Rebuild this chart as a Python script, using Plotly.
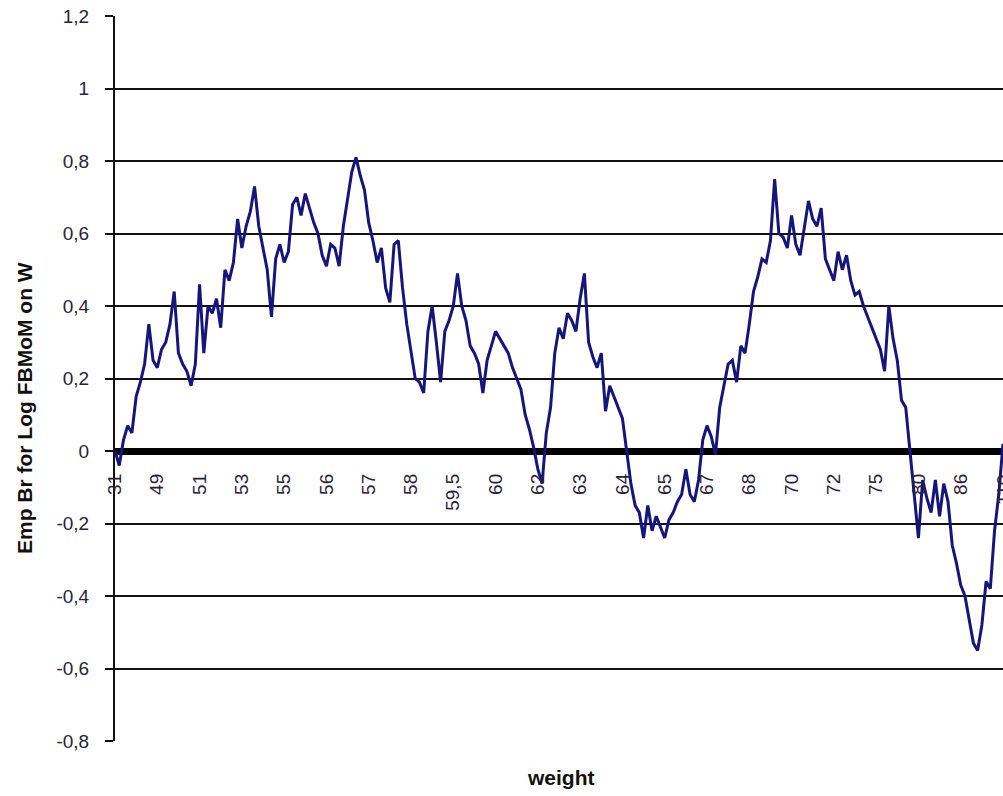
import plotly.graph_objects as go

# Empirical bridge values, one per observation (ordered by weight)
emp_br = [
    0.00, -0.04, 0.03, 0.07, 0.05, 0.15, 0.19, 0.24, 0.35, 0.25,
    0.23, 0.28, 0.30, 0.35, 0.44, 0.27, 0.24, 0.22, 0.18, 0.24,
    0.46, 0.27, 0.40, 0.38, 0.42, 0.34, 0.50, 0.47, 0.52, 0.64,
    0.56, 0.62, 0.66, 0.73, 0.62, 0.56, 0.50, 0.37, 0.53, 0.57,
    0.52, 0.55, 0.68, 0.70, 0.65, 0.71, 0.67, 0.63, 0.60, 0.54,
    0.51, 0.57, 0.56, 0.51, 0.62, 0.70, 0.77, 0.81, 0.76, 0.72,
    0.63, 0.58, 0.52, 0.56, 0.45, 0.41, 0.57, 0.58, 0.45, 0.35,
    0.28, 0.20, 0.19, 0.16, 0.33, 0.40, 0.30, 0.19, 0.33, 0.36,
    0.40, 0.49, 0.40, 0.36, 0.29, 0.27, 0.24, 0.16, 0.25, 0.29,
    0.33, 0.31, 0.29, 0.27, 0.23, 0.20, 0.17, 0.10, 0.06, 0.01,
    -0.05, -0.09, 0.05, 0.12, 0.27, 0.34, 0.31, 0.38, 0.36, 0.33,
    0.42, 0.49, 0.30, 0.26, 0.23, 0.27, 0.11, 0.18, 0.15, 0.12,
    0.09, 0.00, -0.09, -0.15, -0.17, -0.24, -0.15, -0.22, -0.18, -0.21,
    -0.24, -0.19, -0.17, -0.14, -0.12, -0.05, -0.12, -0.14, -0.08, 0.03,
    0.07, 0.04, -0.01, 0.12, 0.18, 0.24, 0.25, 0.19, 0.29, 0.27,
    0.35, 0.44, 0.48, 0.53, 0.52, 0.58, 0.75, 0.60, 0.59, 0.56,
    0.65, 0.57, 0.54, 0.61, 0.69, 0.64, 0.62, 0.67, 0.53, 0.50,
    0.47, 0.55, 0.50, 0.54, 0.47, 0.43, 0.44, 0.40, 0.37, 0.34,
    0.31, 0.28, 0.22, 0.40, 0.31, 0.25, 0.14, 0.12, 0.00, -0.12,
    -0.24, -0.08, -0.13, -0.17, -0.08, -0.18, -0.09, -0.14, -0.26, -0.31,
    -0.37, -0.40, -0.47, -0.53, -0.55, -0.48, -0.36, -0.38, -0.22, -0.12,
    0.02,
]

# Weight labels shown on every tenth observation
weight_labels = ["31", "49", "51", "53", "55", "56", "57", "58", "59,5", "60", "62",
                 "63", "64", "65", "67", "68", "70", "72", "75", "80", "86", "110"]
label_step = 10

y_ticks = [-0.8, -0.6, -0.4, -0.2, 0, 0.2, 0.4, 0.6, 0.8, 1, 1.2]
y_tick_text = ["-0,8", "-0,6", "-0,4", "-0,2", "0", "0,2", "0,4", "0,6", "0,8", "1", "1,2"]

obs = list(range(len(emp_br)))
label_pos = [k * label_step for k in range(len(weight_labels))]

FONT = "Liberation Sans, Arial, sans-serif"
TICK_COLOR = "#2b2238"

fig = go.Figure()
fig.add_trace(go.Scatter(
    x=obs, y=emp_br, mode="lines",
    line=dict(color="#16167a", width=3),
    hoverinfo="skip", showlegend=False,
))

fig.update_layout(
    width=1003, height=796,
    margin=dict(l=115, r=0, t=16, b=55),
    paper_bgcolor="white", plot_bgcolor="white",
    font=dict(family=FONT, size=19, color=TICK_COLOR),
    showlegend=False,
    xaxis=dict(
        range=[0, label_pos[-1]],
        anchor="free", position=0.4,
        tickmode="array", tickvals=label_pos[:-1], ticktext=weight_labels[:-1],
        tickangle=-90, ticks="", showgrid=False, showline=False,
        zeroline=False, ticklabelstandoff=18,
        tickfont=dict(family=FONT, size=19, color=TICK_COLOR),
    ),
    yaxis=dict(
        range=[-0.8, 1.2],
        tickmode="array", tickvals=y_ticks, ticktext=y_tick_text,
        showgrid=True, gridcolor="#111111", gridwidth=1.8,
        zeroline=True, zerolinecolor="#000000", zerolinewidth=7,
        showline=True, linecolor="#111111", linewidth=2,
        ticks="outside", ticklen=8, tickcolor="#111111", tickwidth=1.6,
        ticklabelstandoff=12,
        tickfont=dict(family=FONT, size=19, color=TICK_COLOR),
    ),
    annotations=[
        # last weight label sits on the right edge of the plot
        dict(text=weight_labels[-1], textangle=-90,
             x=label_pos[-1], y=0, xref="x", yref="y",
             xanchor="center", yanchor="top", yshift=-22, showarrow=False,
             font=dict(family=FONT, size=19, color=TICK_COLOR)),
        dict(text="<b>Emp Br for Log FBMoM on W</b>", textangle=-90,
             xref="paper", yref="paper", x=(24 - 115) / 888, y=(741 - 408) / 725,
             xanchor="center", yanchor="middle", showarrow=False,
             font=dict(family=FONT, size=21, color="#111111")),
        dict(text="<b>weight</b>",
             xref="paper", yref="paper", x=(561 - 115) / 888, y=(741 - 777) / 725,
             xanchor="center", yanchor="middle", showarrow=False,
             font=dict(family=FONT, size=21, color="#111111")),
    ],
)

fig.write_html("out.html")
